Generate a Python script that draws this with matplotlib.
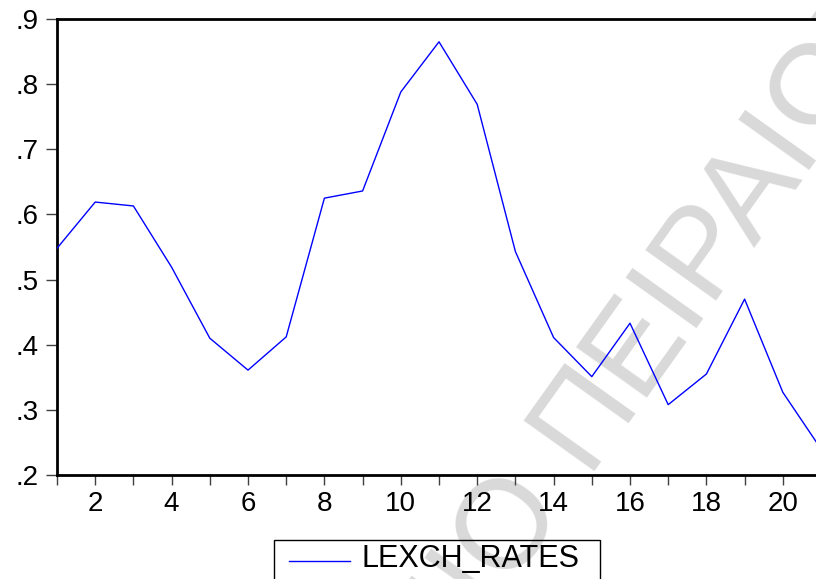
import matplotlib
matplotlib.use("Agg")
import matplotlib.pyplot as plt
from matplotlib.ticker import FixedLocator, FuncFormatter
from matplotlib.patches import Rectangle
from matplotlib.lines import Line2D

# ---- data ----
periods = list(range(1, 22))
lexch_rates = [0.548, 0.619, 0.613, 0.519, 0.410, 0.361, 0.412, 0.625, 0.636,
               0.788, 0.865, 0.769, 0.543, 0.411, 0.351, 0.433, 0.308, 0.355,
               0.470, 0.327, 0.240]
series_name = "LEXCH_RATES"
x_major = [2, 4, 6, 8, 10, 12, 14, 16, 18, 20]
x_minor = [1, 3, 5, 7, 9, 11, 13, 15, 17, 19, 21]
y_ticks = [0.2, 0.3, 0.4, 0.5, 0.6, 0.7, 0.8, 0.9]
watermark_a = "ΠΑΝΕΠΙΣΤΗΜΙΟ"
watermark_b = "ΠΕΙΡΑΙΩΣ"

W, H = 816, 579
plt.rcParams['font.family'] = ['Liberation Sans', 'DejaVu Sans']
fig = plt.figure(figsize=(W / 100, H / 100), dpi=100)
fig.patch.set_facecolor('white')


def fx(px):
    return px / W


def fy(py):
    return 1 - py / H


# watermark (behind everything)
wm_kw = dict(rotation=54.5, rotation_mode='anchor', va='baseline',
             color='#d9d9d9', fontsize=91, zorder=-10)
fig.text(fx(584), fy(471), watermark_b, ha='left', **wm_kw)
fig.text(fx(563), fy(500), watermark_a, ha='right', **wm_kw)

ax = fig.add_axes([fx(57), fy(475), (821 - 57) / W, (475 - 19) / H])
ax.set_facecolor('none')
line, = ax.plot(periods, lexch_rates, color='#0000ff', lw=1.0, label=series_name, zorder=3)

ax.set_xlim(1, 21)
ax.set_ylim(0.2, 0.9)

for s in ['top', 'left', 'bottom']:
    ax.spines[s].set_linewidth(2.0)
    ax.spines[s].set_color('black')
ax.spines['right'].set_visible(False)

ax.xaxis.set_major_locator(FixedLocator(x_major))
ax.xaxis.set_minor_locator(FixedLocator(x_minor))
ax.yaxis.set_major_locator(FixedLocator(y_ticks))
ax.yaxis.set_major_formatter(FuncFormatter(lambda v, p: ("%.1f" % v).lstrip('0')))

ax.tick_params(axis='x', which='both', direction='out', length=7.5, width=1,
               color='#404040', top=False)
ax.tick_params(axis='x', which='major', labelsize=20, pad=4, labelcolor='black')
ax.tick_params(axis='y', which='major', direction='out', length=8, width=1,
               color='#404040', labelsize=20, pad=5, right=False)

# legend box (EViews style, partly cut by the bottom edge)
fig.patches.append(Rectangle((fx(274), fy(592)), (600 - 274) / W, (592 - 540) / H,
                             transform=fig.transFigure, fill=False,
                             edgecolor='black', lw=1.0, zorder=5))
fig.lines.append(Line2D([fx(289), fx(350)], [fy(561), fy(561)],
                        transform=fig.transFigure, color=line.get_color(),
                        lw=line.get_linewidth(), zorder=5))
fig.text(fx(361), fy(567), series_name, ha='left', va='baseline',
         fontsize=22, color='black', zorder=5)

fig.savefig('out.png', dpi=100)
